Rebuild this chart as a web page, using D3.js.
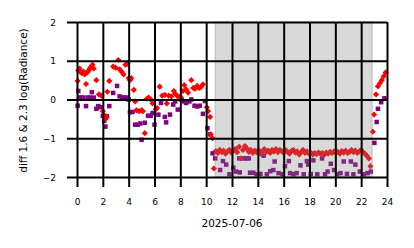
<!DOCTYPE html>
<html><head><meta charset="utf-8">
<script src="https://cdn.jsdelivr.net/npm/d3@7"></script>
<style>html,body{margin:0;padding:0;background:#fff;}svg{display:block;font-family:"DejaVu Sans",sans-serif;}</style>
</head><body>
<script>
const xTicks = [0,2,4,6,8,10,12,14,16,18,20,22,24];
const yTicks = [-2,-1,0,1,2];
const xLabel = "2025-07-06";
const yLabel = "diff 1.6 & 2.3  log(Radiance)";
const nightSpan = [10.7, 22.85];

// red diamonds: [hour, value]
const redSeries = [
[0.05,0.48],[0.1,0.75],[0.2,0.8],[0.3,0.7],[0.4,0.68],[0.5,0.72],[0.6,0.65],[0.7,0.4],[0.8,0.7],[0.9,0.75],[1.0,0.8],[1.1,0.85],[1.2,0.9],[1.3,0.8],[1.5,0.5],[1.7,0.13],[1.9,0.1],[2.0,-0.3],[2.1,-0.4],[2.2,-0.5],[2.3,-0.45],[2.35,0.2],[2.5,0.48],[2.8,0.85],[3.0,0.82],[3.2,1.02],[3.3,0.78],[3.45,0.72],[3.6,0.65],[3.75,0.9],[3.9,0.92],[4.0,0.55],[4.1,0.5],[4.2,0.55],[4.4,0.25],[4.5,-0.05],[4.6,-0.28],[4.8,-0.3],[5.0,-0.28],[5.1,-0.3],[5.25,-0.87],[5.4,0.02],[5.55,0.05],[5.7,0.0],[5.85,-0.1],[6.1,-0.25],[6.2,-0.22],[6.4,0.33],[6.6,0.1],[6.8,0.12],[6.95,-0.1],[7.1,0.1],[7.3,0.08],[7.5,0.22],[7.6,0.15],[7.8,0.08],[8.0,0.08],[8.2,0.22],[8.3,0.37],[8.45,0.26],[8.6,0.18],[8.85,0.5],[9.0,0.3],[9.15,0.28],[9.3,0.35],[9.45,0.3],[9.6,0.32],[9.75,0.39],[10.05,-0.2],[10.15,-0.3],[10.3,-0.45],[10.35,-0.9],[10.5,-1.0],[10.6,-1.78],
[10.75,-1.33],[10.9,-1.38],[11.05,-1.3],[11.2,-1.36],[11.35,-1.32],[11.5,-1.4],[11.65,-1.34],[11.8,-1.3],[11.95,-1.37],[12.1,-1.33],[12.25,-1.28],[12.4,-1.36],[12.55,-1.22],[12.7,-1.52],[12.85,-1.3],[13.0,-1.2],[13.15,-1.26],[13.3,-1.35],[13.45,-1.3],[13.6,-1.38],[13.75,-1.32],[13.9,-1.36],[14.05,-1.3],[14.2,-1.4],[14.35,-1.34],[14.5,-1.28],[14.65,-1.35],[14.8,-1.32],[14.95,-1.38],[15.1,-1.3],[15.25,-1.34],[15.4,-1.28],[15.55,-1.36],[15.7,-1.3],[15.85,-1.33],[16.0,-1.38],[16.15,-1.3],[16.3,-1.35],[16.45,-1.4],[16.6,-1.33],[16.75,-1.3],[16.9,-1.37],[17.05,-1.34],[17.2,-1.42],[17.35,-1.36],[17.5,-1.3],[17.65,-1.38],[17.8,-1.34],[17.95,-1.4],[18.1,-1.37],[18.25,-1.42],[18.4,-1.38],[18.55,-1.41],[18.7,-1.37],[18.85,-1.4],[19.0,-1.38],[19.15,-1.42],[19.3,-1.37],[19.45,-1.4],[19.6,-1.35],[19.75,-1.38],[19.9,-1.34],[20.05,-1.38],[20.2,-1.35],[20.35,-1.4],[20.5,-1.33],[20.65,-1.37],[20.8,-1.32],[20.95,-1.38],[21.1,-1.35],[21.25,-1.3],[21.4,-1.36],[21.55,-1.32],[21.7,-1.38],[21.85,-1.34],[22.0,-1.3],[22.15,-1.36],[22.3,-1.4],[22.45,-1.46],[22.6,-1.52],
[22.72,-1.72],[22.9,-0.83],[23.0,-0.39],[23.15,0.13],[23.3,0.34],[23.45,0.42],[23.6,0.5],[23.75,0.6],[23.9,0.7]
];

// purple squares: [hour, value]
const purpleSeries = [
[0.05,-0.16],[0.1,0.22],[0.2,0.05],[0.35,0.05],[0.5,0.05],[0.7,-0.17],[0.85,0.05],[1.0,0.05],[1.15,0.19],[1.3,0.05],[1.5,-0.24],[1.65,-0.17],[1.8,-0.2],[2.0,-0.42],[2.1,-0.55],[2.2,-0.7],[2.3,-0.43],[2.5,-0.17],[2.8,0.17],[3.1,0.35],[3.3,0.08],[3.5,0.05],[3.65,0.05],[3.85,0.05],[4.0,0.0],[4.1,-0.33],[4.3,-0.32],[4.5,-0.65],[4.7,-0.65],[4.9,-0.62],[5.0,-1.04],[5.25,-0.6],[5.5,-0.42],[5.7,-0.42],[5.85,-0.35],[6.0,-0.65],[6.3,-0.39],[6.5,-0.09],[6.8,-0.45],[6.9,-0.59],[7.2,-0.39],[7.45,-0.13],[7.6,-0.05],[7.8,-0.26],[8.1,0.0],[8.3,-0.05],[8.45,-0.09],[8.7,-0.05],[8.85,0.0],[9.1,-0.16],[9.3,-0.18],[9.5,-0.16],[9.75,-0.37],[9.9,-0.04],[10.1,-0.74],[10.3,-0.9],[10.5,-1.39],
[10.7,-1.52],[11.08,-1.82],[11.3,-1.59],[11.55,-1.68],[11.8,-1.93],[12.1,-1.76],[12.3,-1.86],[12.56,-1.52],[12.6,-1.88],[12.9,-1.52],[13.1,-1.52],[13.3,-1.52],[13.4,-1.89],[13.65,-1.89],[13.9,-1.93],[14.2,-1.92],[14.45,-1.45],[14.7,-1.93],[14.96,-1.85],[15.2,-1.82],[15.3,-1.6],[15.6,-1.9],[15.9,-1.93],[16.1,-1.72],[16.4,-1.59],[16.5,-1.9],[16.75,-1.93],[17.0,-1.9],[17.3,-1.7],[17.55,-1.93],[17.8,-1.59],[17.9,-1.68],[18.1,-1.92],[18.3,-1.57],[18.6,-1.93],[18.97,-1.52],[19.2,-1.93],[19.4,-1.86],[19.65,-1.66],[19.9,-1.82],[20.15,-1.93],[20.4,-1.9],[20.65,-1.6],[20.9,-1.92],[21.2,-1.6],[21.4,-1.93],[21.55,-1.68],[21.9,-1.86],[22.2,-1.93],[22.5,-1.9],[22.75,-1.86],
[23.02,-1.12],[23.2,-0.58],[23.3,-0.24],[23.55,-0.07],[23.8,0.03]
];

const W = 414, H = 248;
const m = {left:77, right:387, top:22, bottom:177};
const svg = d3.select("body").append("svg").attr("width",W).attr("height",H);
const x = d3.scaleLinear().domain([0,24]).range([m.left,m.right]);
const y = d3.scaleLinear().domain([-2,2]).range([m.bottom,m.top]);

const gPts = svg.append("g");
const purpleSize = 4.5, redSize = 7;
gPts.selectAll("rect.p").data(purpleSeries).enter().append("rect").attr("class","p")
  .attr("x",d=>x(d[0])-purpleSize/2).attr("y",d=>y(d[1])-purpleSize/2)
  .attr("width",purpleSize).attr("height",purpleSize).attr("fill","#800080");
const diamond = d3.symbol().type(d3.symbolDiamond2).size(redSize*redSize/2);
gPts.selectAll("path.r").data(redSeries).enter().append("path").attr("class","r")
  .attr("transform",d=>`translate(${x(d[0])},${y(d[1])})`)
  .attr("d",diamond()).attr("fill","#ff0000");

// night shading
svg.append("rect").attr("x",x(nightSpan[0])).attr("y",y(2))
  .attr("width",x(nightSpan[1])-x(nightSpan[0])).attr("height",y(-2)-y(2))
  .attr("fill","#808080").attr("fill-opacity",0.3)
  .attr("stroke","#808080").attr("stroke-opacity",0.3).attr("stroke-width",1.5);

// grid + ticks
const gx = svg.append("g").attr("transform",`translate(0,${m.bottom})`)
  .call(d3.axisBottom(x).tickValues(xTicks).tickSize(0).tickPadding(0).tickFormat(d3.format("d")));
gx.select(".domain").remove();
gx.selectAll(".tick line").attr("y1",-(m.bottom-m.top)).attr("y2",10).attr("stroke","#000").attr("stroke-width",2);
gx.selectAll(".tick text").attr("y",28).attr("dy",null).attr("font-size",9).attr("fill","#000")
  .style("font-family","DejaVu Sans");

const gy = svg.append("g").attr("transform",`translate(${m.left},0)`)
  .call(d3.axisLeft(y).tickValues(yTicks).tickSize(0).tickFormat(d=>d<0?"\u2212"+Math.abs(d):String(d)));
gy.select(".domain").remove();
gy.selectAll(".tick line").attr("x1",-10).attr("x2",m.right-m.left).attr("stroke","#000").attr("stroke-width",2);
gy.selectAll(".tick text").attr("x",-21).attr("dy","0.35em").attr("font-size",9).attr("fill","#000")
  .style("font-family","DejaVu Sans");

svg.append("text").attr("x",(m.left+m.right)/2).attr("y",227).attr("text-anchor","middle")
  .attr("font-size",10.5).text(xLabel);
svg.append("text").attr("transform",`translate(27,${(m.top+m.bottom)/2+1}) rotate(-90)`)
  .attr("text-anchor","middle").attr("font-size",10.5).text(yLabel);
</script>
</body></html>
